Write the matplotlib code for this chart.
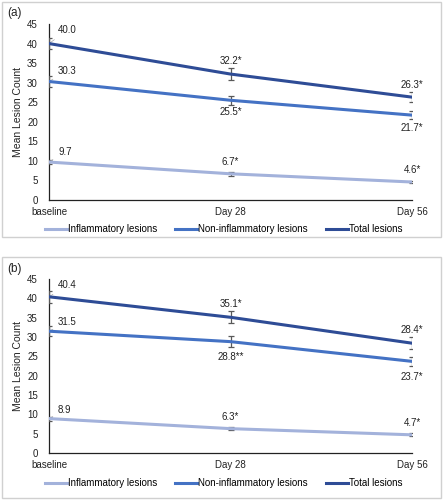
import matplotlib
matplotlib.use("Agg")
import matplotlib.pyplot as plt
from matplotlib.patches import Rectangle
from matplotlib.lines import Line2D

plt.rcParams['font.family'] = ['Liberation Sans', 'DejaVu Sans']

timepoints = ["baseline", "Day 28", "Day 56"]
series_names = ["Inflammatory lesions", "Non-inflammatory lesions", "Total lesions"]
colors = ["#A3B2DB", "#4472C4", "#2E4C96"]

# Panel (a)
a_inflam = [9.7, 6.7, 4.6]
a_noninf = [30.3, 25.5, 21.7]
a_total = [40.0, 32.2, 26.3]
a_inflam_err = [0.6, 0.5, 0.35]
a_noninf_err = [1.3, 1.2, 1.0]
a_total_err = [1.5, 1.5, 1.3]
a_inflam_lab = ["9.7", "6.7*", "4.6*"]
a_noninf_lab = ["30.3", "25.5*", "21.7*"]
a_total_lab = ["40.0", "32.2*", "26.3*"]

# Panel (b)
b_inflam = [8.9, 6.3, 4.7]
b_noninf = [31.5, 28.8, 23.7]
b_total = [40.4, 35.1, 28.4]
b_inflam_err = [0.5, 0.4, 0.35]
b_noninf_err = [1.3, 1.5, 1.2]
b_total_err = [1.5, 1.6, 1.5]
b_inflam_lab = ["8.9", "6.3*", "4.7*"]
b_noninf_lab = ["31.5", "28.8**", "23.7*"]
b_total_lab = ["40.4", "35.1*", "28.4*"]

yticks = list(range(0, 50, 5))

W, H = 443, 500
fig = plt.figure(figsize=(W / 100, H / 100), dpi=100)

def px_rect(l, t, r, b):
    return [l / W, 1 - b / H, (r - l) / W, (b - t) / H]

def draw_panel(ax_rect, frame, label, label_y, vals, errs, labs, legend_y, offsets):
    fx0, fy0, fx1, fy1 = frame
    fig.patches.append(Rectangle((fx0 / W, 1 - fy1 / H), (fx1 - fx0) / W, (fy1 - fy0) / H,
                                 transform=fig.transFigure, fill=False,
                                 edgecolor="#D0D0D0", linewidth=1.0))
    fig.text(7 / W, 1 - label_y / H, label, fontsize=8.5, ha="left", va="center", color="#222222")
    ax = fig.add_axes(ax_rect)
    x = list(range(len(timepoints)))
    for i in range(3):
        ax.errorbar(x, vals[i], yerr=errs[i], color=colors[i], lw=2.2,
                    ecolor="#595959", elinewidth=0.9, capsize=2.5, capthick=0.9, zorder=3)
        for j in range(3):
            dy = offsets[i][j]
            if j == 0:
                ax.annotate(labs[i][j], xy=(x[j], vals[i][j]), xytext=(x[j] + 0.05, vals[i][j] + dy),
                            fontsize=7, ha="left", va="center", color="#222222",
                            arrowprops=dict(arrowstyle="-", color="#A8A8A8", lw=0.5,
                                            shrinkA=2, shrinkB=1),
                            annotation_clip=False)
            else:
                ax.text(x[j], vals[i][j] + dy, labs[i][j], fontsize=7, ha="center",
                        va="center", color="#222222", clip_on=False)
    ax.set_xlim(0, 2)
    ax.set_ylim(0, 45)
    ax.set_yticks(yticks)
    ax.set_xticks(x)
    ax.set_xticklabels(timepoints)
    ax.tick_params(axis="both", length=0, labelsize=7, colors="#222222")
    ax.tick_params(axis="y", pad=8)
    ax.tick_params(axis="x", pad=5)
    for s in ["top", "right"]:
        ax.spines[s].set_visible(False)
    for s in ["left", "bottom"]:
        ax.spines[s].set_color("#222222")
        ax.spines[s].set_linewidth(0.9)
    ax.set_ylabel("Mean Lesion Count", fontsize=7.5, color="#222222", labelpad=3)
    handles = [Line2D([0], [0], color=c, lw=2.2) for c in colors]
    fig.legend(handles, series_names, loc="center", bbox_to_anchor=(0.505, 1 - legend_y / H),
               ncol=3, frameon=False, fontsize=7, handlelength=2.3, handletextpad=0.1,
               columnspacing=1.8)
    return ax

a_offsets = [[2.6, 3.0, 3.0], [2.8, -3.0, -3.4], [3.4, 3.4, 3.2]]
b_offsets = [[2.2, 3.0, 3.1], [2.4, -4.0, -4.1], [3.0, 3.4, 3.4]]

draw_panel(px_rect(49, 24, 412, 200), (2, 2, 441, 237), "(a)", 13,
           [a_inflam, a_noninf, a_total], [a_inflam_err, a_noninf_err, a_total_err],
           [a_inflam_lab, a_noninf_lab, a_total_lab], 229, a_offsets)
draw_panel(px_rect(49, 279, 412, 453), (2, 257, 441, 498), "(b)", 269,
           [b_inflam, b_noninf, b_total], [b_inflam_err, b_noninf_err, b_total_err],
           [b_inflam_lab, b_noninf_lab, b_total_lab], 483, b_offsets)

fig.savefig("out.png", dpi=100)
